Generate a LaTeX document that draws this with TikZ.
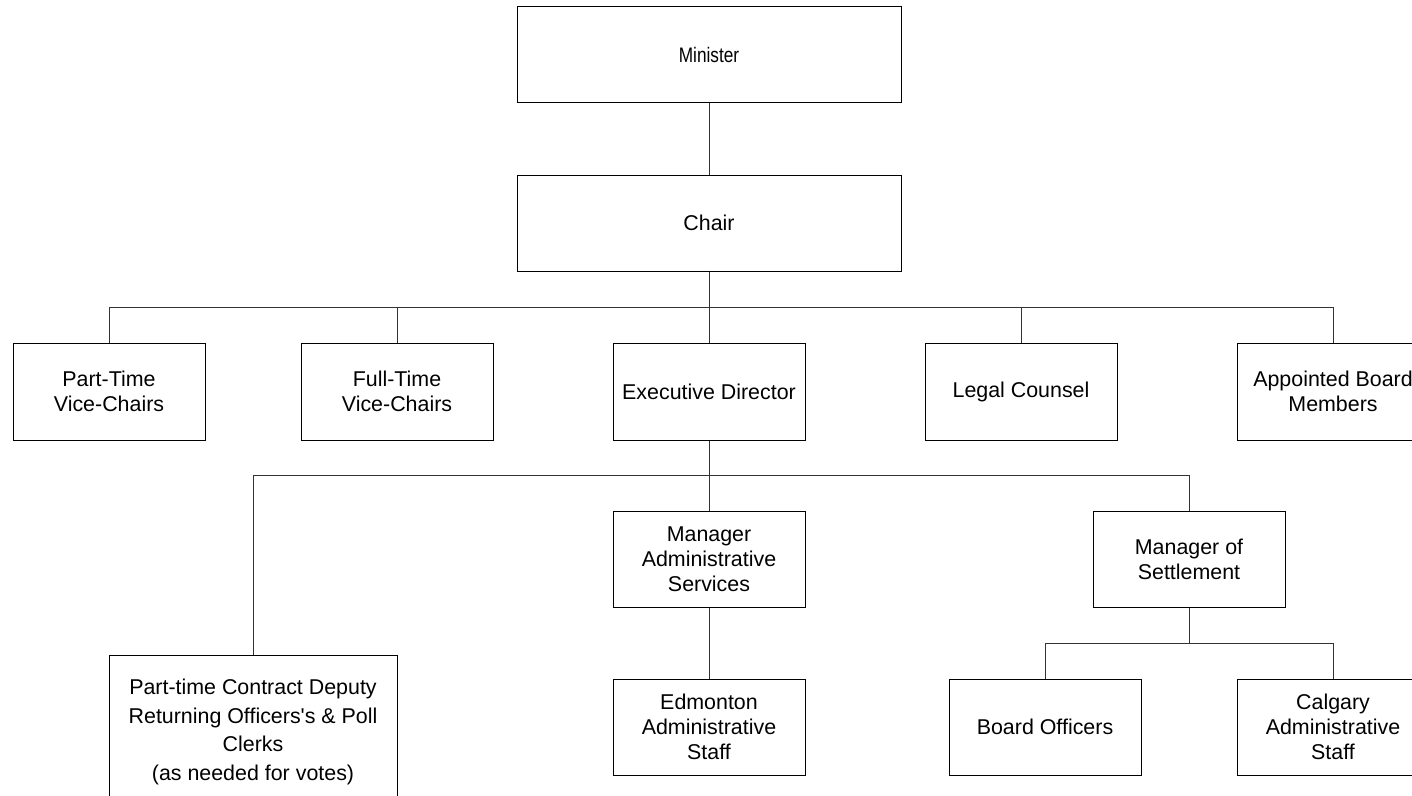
\documentclass[tikz,border=0pt]{standalone}
\usepackage{fontspec}
\setmainfont{Liberation Sans}
\newfontfamily\narrowfont[FakeStretch=0.82]{Liberation Sans}
\usetikzlibrary{positioning}
\definecolor{orgline}{HTML}{333333}

\begin{document}
\begin{tikzpicture}[x=1pt, y=-1pt, line width=1pt,
    orgbox/.style={draw=black, minimum width=192pt, minimum height=97pt, inner sep=0pt, align=center, font=\fontsize{21.4}{25}\selectfont},
    topbox/.style={orgbox, minimum width=384pt, minimum height=96pt},
    link/.style={draw=orgline}]
        \useasboundingbox (0,0) rectangle (1412,795);
        \clip (0,0) rectangle (1412,795);
        \node[topbox, text depth=-3pt, font=\narrowfont\fontsize{21}{25}\selectfont] (minister) at (709,54.5) {Minister};
        \node[topbox] (chair) at (709,223) {Chair};
        \node[orgbox] (ptvc) at (109,391.5) {Part-Time\\Vice-Chairs};
        \node[orgbox] (ftvc) at (397,391.5) {Full-Time\\Vice-Chairs};
        \node[orgbox] (exdir) at (709,391.5) {Executive Director};
        \node[orgbox] (legal) at (1021,391.5) {Legal Counsel};
        \node[orgbox] (board) at (1333,391.5) {Appointed Board\\Members};
        \node[orgbox, minimum height=96pt] (mgradmin) at (709,559) {Manager\\Administrative\\Services};
        \node[orgbox, minimum height=96pt] (mgrsettle) at (1189,559) {Manager of\\Settlement};
        \node[orgbox, minimum width=288pt, minimum height=154pt, font=\fontsize{21.4}{28.5}\selectfont] (deputy) at (253,732) {Part-time Contract Deputy\\Returning Officers\textquotesingle s \& Poll\\Clerks\\(as needed for votes)};
        \node[orgbox, minimum height=96pt] (edmstaff) at (709,727) {Edmonton\\Administrative\\Staff};
        \node[orgbox, minimum height=96pt] (officers) at (1045,727) {Board Officers};
        \node[orgbox, minimum height=96pt] (calstaff) at (1333,727) {Calgary\\Administrative\\Staff};
        \coordinate (bus1) at (709,307);
        \coordinate (bus2) at (709,475);
        \coordinate (bus3) at (1189,643);
        \draw[link] (minister) -- (chair);
        \draw[link] (chair) -- (bus1);
        \foreach \n in {ptvc,ftvc,exdir,legal,board}
          \draw[link] (bus1) -| (\n.north);
        \draw[link] (exdir) -- (bus2);
        \foreach \n in {deputy,mgradmin,mgrsettle}
          \draw[link] (bus2) -| (\n.north);
        \draw[link] (mgradmin) -- (edmstaff);
        \draw[link] (mgrsettle) -- (bus3);
        \foreach \n in {officers,calstaff}
          \draw[link] (bus3) -| (\n.north);
      \end{tikzpicture}
\end{document}
